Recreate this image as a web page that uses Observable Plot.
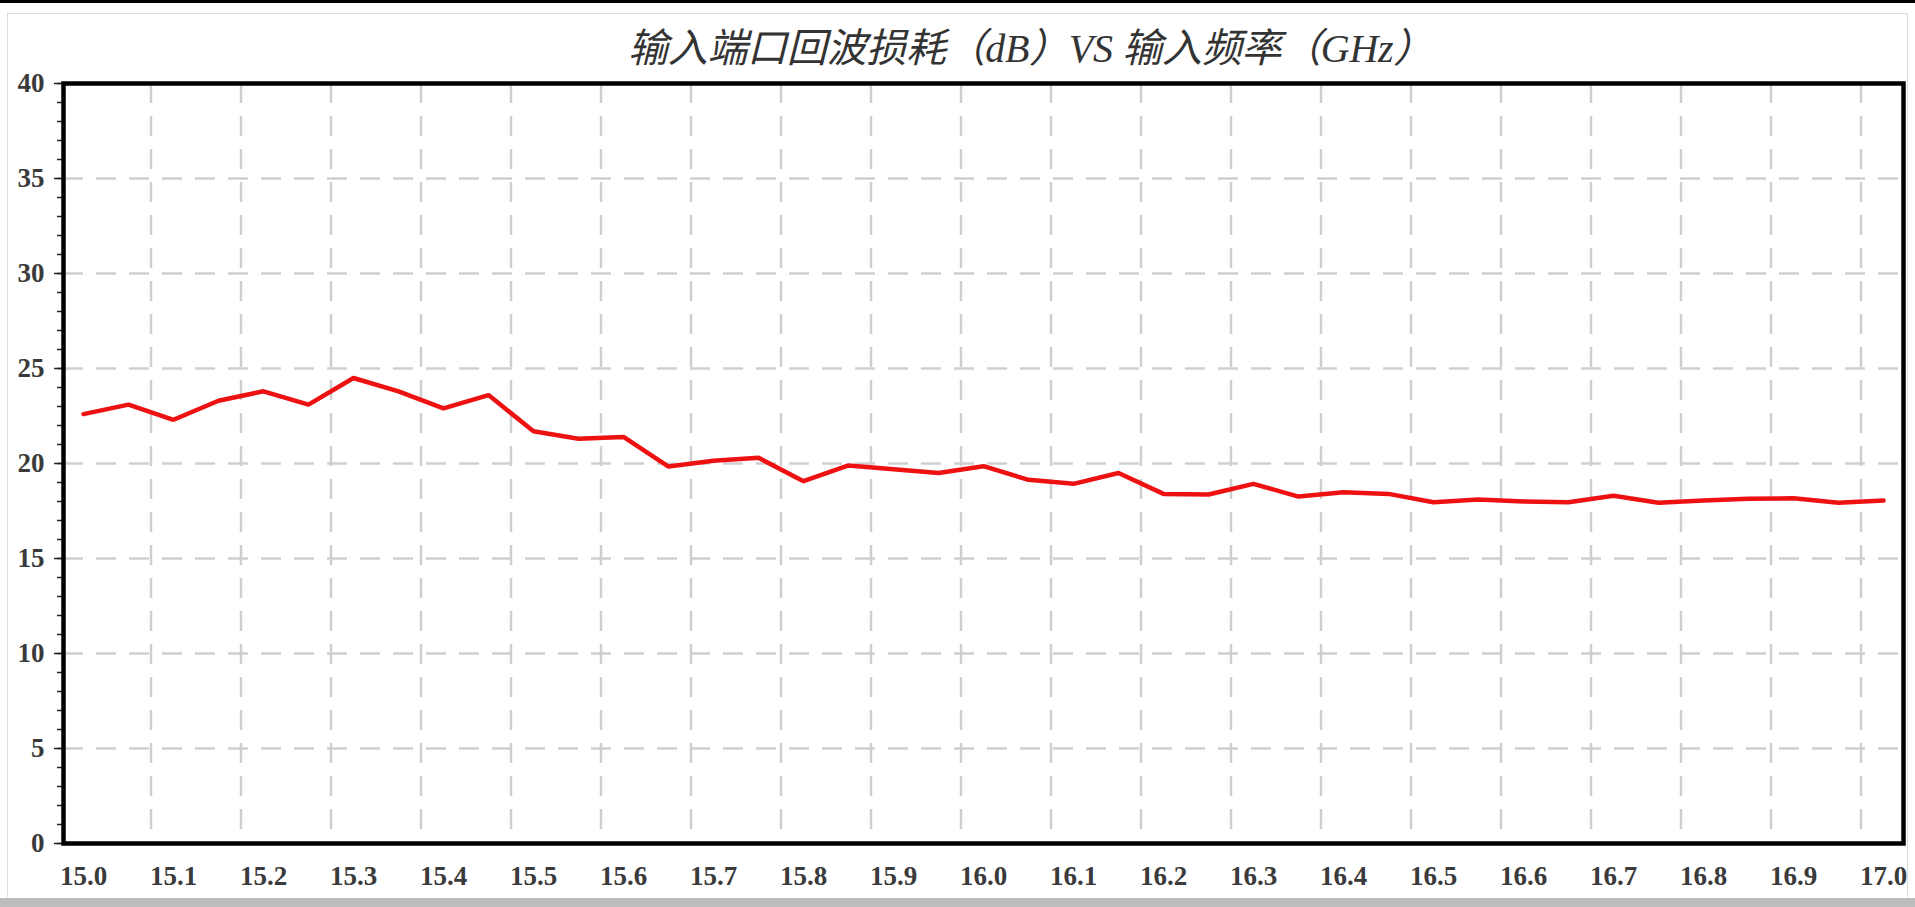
<!DOCTYPE html>
<html>
<head>
<meta charset="utf-8">
<script src="https://cdn.jsdelivr.net/npm/d3@7"></script>
<script src="https://cdn.jsdelivr.net/npm/@observablehq/plot@0.6"></script>
<style>
  html, body { margin: 0; padding: 0; background: #fff; }
  #topbar { height: 3px; background: #000; }
  #frame { margin: 10px 0 0 7px; width: 1899px; height: 883px; border: 1px solid #dcdcdc; border-bottom: 0; }
  #title { height: 46px; line-height: 44px; box-sizing: border-box; padding-top: 13px; padding-left: 146px;
           text-align: center; font-family: "Liberation Serif", "Noto Sans CJK SC", serif; font-style: italic;
           font-size: 40px; color: #333; letter-spacing: -0.3px; white-space: nowrap; }
  #bottombar { position: absolute; left: 0; top: 898px; width: 1915px; height: 9px; background: #bdbdbd; }
  svg { display: block; }
</style>
</head>
<body>
<div id="topbar"></div>
<div id="frame">
  <div id="title">输入端口回波损耗（dB）VS 输入频率（GHz）</div>
  <div id="chart"></div>
</div>
<div id="bottombar"></div>
<script>
// Frequency (GHz)
const freq = [
  15.00, 15.05, 15.10, 15.15, 15.20, 15.25, 15.30, 15.35, 15.40, 15.45,
  15.50, 15.55, 15.60, 15.65, 15.70, 15.75, 15.80, 15.85, 15.90, 15.95,
  16.00, 16.05, 16.10, 16.15, 16.20, 16.25, 16.30, 16.35, 16.40, 16.45,
  16.50, 16.55, 16.60, 16.65, 16.70, 16.75, 16.80, 16.85, 16.90, 16.95, 17.00
];
// Input return loss (dB)
const returnLoss = [
  22.6, 23.1, 22.3, 23.3, 23.8, 23.1, 24.5, 23.8, 22.9, 23.6,
  21.7, 21.3, 21.4, 19.84, 20.15, 20.3, 19.07, 19.9, 19.7, 19.5,
  19.86, 19.14, 18.93, 19.5, 18.4, 18.37, 18.93, 18.26, 18.49, 18.4,
  17.96, 18.1, 18.0, 17.96, 18.3, 17.93, 18.05, 18.14, 18.17, 17.93, 18.05
];
const xTicks = d3.range(0, 21).map(i => +(15 + i * 0.1).toFixed(1));
const yTicks = [0, 5, 10, 15, 20, 25, 30, 35, 40];
const yMinorTicks = d3.range(0, 41);
const yGrid = [5, 10, 15, 20, 25, 30, 35];

const data = freq.map((f, i) => ({f, v: returnLoss[i]}));
// vertical grid sits half a sample step left of each label (as in the original)
const xGrid = xTicks.slice(1).map(t => t - 0.025);

const chart = Plot.plot({
  width: 1899,
  height: 837,
  marginLeft: 55,
  marginRight: 4,
  marginTop: 23,
  marginBottom: 54,
  style: {fontFamily: "Liberation Serif, serif", background: "transparent"},
  x: {domain: [15, 17], inset: 20},
  y: {domain: [0, 40]},
  marks: [
    Plot.ruleY(yGrid, {stroke: "#cfcfcf", strokeWidth: 2.5, strokeDasharray: "20,13"}),
    Plot.ruleX(xGrid, {stroke: "#cfcfcf", strokeWidth: 2.5, strokeDasharray: "20,13"}),
    Plot.axisY({ticks: yMinorTicks, tickSize: 6, tickFormat: () => "", stroke: "#222", strokeWidth: 1.5, label: null}),
    Plot.axisY({ticks: yTicks, tickSize: 9, tickPadding: 10, tickFormat: d => String(d), stroke: "#222",
      strokeWidth: 1.5, fill: "#3a3a3a", fontSize: 27, fontWeight: "bold", label: null}),
    Plot.axisX({ticks: xTicks, tickSize: 0, tickPadding: 22, tickFormat: d3.format(".1f"),
      fill: "#3a3a3a", fontSize: 27, fontWeight: "bold", label: null}),
    Plot.line(data, {x: "f", y: "v", stroke: "#ee1111", strokeWidth: 4.5, strokeLinejoin: "miter"}),
    Plot.frame({stroke: "#000", strokeWidth: 4.5})
  ]
});
document.getElementById("chart").appendChild(chart);
</script>
</body>
</html>
